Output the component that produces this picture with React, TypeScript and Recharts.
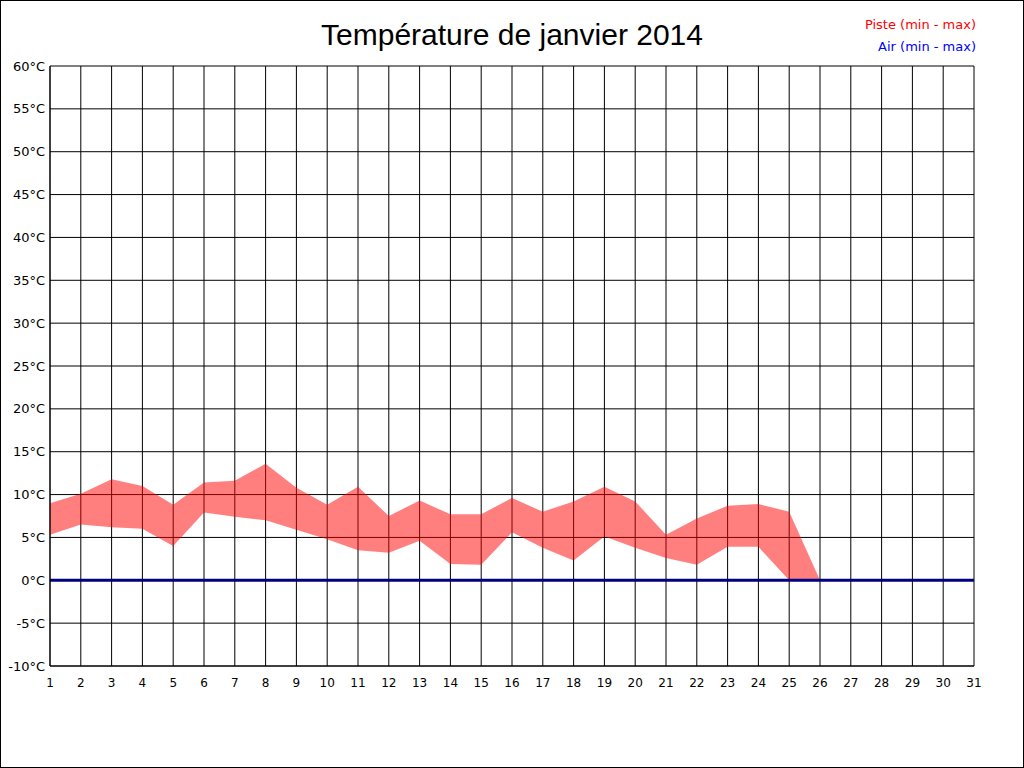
import { ComposedChart, Area, Line, XAxis, YAxis, CartesianGrid } from "recharts";

const days = [
  1, 2, 3, 4, 5, 6, 7, 8, 9, 10, 11, 12, 13, 14, 15, 16, 17, 18, 19, 20, 21,
  22, 23, 24, 25, 26, 27, 28, 29, 30, 31,
];

// Piste (min - max)
const pisteMin = [
  5.3, 6.5, 6.2, 6.0, 4.0, 7.9, 7.4, 7.0, 5.9, 4.8, 3.5, 3.2, 4.6, 1.9, 1.8,
  5.6, 3.8, 2.3, 5.1, 3.8, 2.6, 1.8, 3.9, 3.9, 0, 0, 0, 0, 0, 0, 0,
];
const pisteMax = [
  9.0, 10.1, 11.8, 11.0, 8.8, 11.4, 11.6, 13.6, 10.8, 8.8, 10.9, 7.5, 9.3,
  7.7, 7.7, 9.6, 8.0, 9.2, 10.9, 9.2, 5.3, 7.2, 8.7, 8.9, 8.0, 0, 0, 0, 0, 0,
  0,
];

// Air (min - max)
const airMin = [
  0, 0, 0, 0, 0, 0, 0, 0, 0, 0, 0, 0, 0, 0, 0, 0, 0, 0, 0, 0, 0, 0, 0, 0, 0,
  0, 0, 0, 0, 0, 0,
];
const airMax = [
  0, 0, 0, 0, 0, 0, 0, 0, 0, 0, 0, 0, 0, 0, 0, 0, 0, 0, 0, 0, 0, 0, 0, 0, 0,
  0, 0, 0, 0, 0, 0,
];

const yTicks = [-10, -5, 0, 5, 10, 15, 20, 25, 30, 35, 40, 45, 50, 55, 60];

const data = days.map((d, i) => ({
  day: d,
  piste: [pisteMin[i], pisteMax[i]],
  air: [airMin[i], airMax[i]],
  airMax: airMax[i],
}));

const font = "'DejaVu Sans', sans-serif";

export default function App() {
  return (
    <div
      style={{
        position: "absolute",
        left: 0,
        top: 0,
        width: 1024,
        height: 768,
        background: "#fff",
      }}
    >
      <ComposedChart
        width={1024}
        height={768}
        data={data}
        margin={{ top: 66, right: 50, bottom: 72, left: 0 }}
      >
        <CartesianGrid stroke="#000" strokeOpacity={1} />
        <XAxis
          dataKey="day"
          type="number"
          domain={[1, 31]}
          ticks={days}
          interval={0}
          height={30}
          tickSize={0}
          tickMargin={12}
          stroke="#000"
          tick={{ fill: "#000", fontSize: 12, fontFamily: font }}
        />
        <YAxis
          type="number"
          domain={[-10, 60]}
          ticks={yTicks}
          interval={0}
          width={50}
          tickSize={0}
          tickMargin={5}
          stroke="#000"
          tickFormatter={(v) => `${v}°C`}
          tick={{ fill: "#000", fontSize: 13, fontFamily: font }}
        />
        <Line
          dataKey="airMax"
          stroke="#000080"
          strokeWidth={3}
          dot={false}
          isAnimationActive={false}
        />
        <Area
          dataKey="piste"
          fill="#ff0000"
          fillOpacity={0.5}
          stroke="none"
          isAnimationActive={false}
        />
      </ComposedChart>
      <div
        style={{
          position: "absolute",
          left: 0,
          right: 0,
          top: 18,
          textAlign: "center",
          fontFamily: "'Liberation Sans', Arial, sans-serif",
          fontSize: 30,
          color: "#000",
        }}
      >
        Température de janvier 2014
      </div>
      <div
        style={{
          position: "absolute",
          right: 48,
          top: 14,
          textAlign: "right",
          fontFamily: font,
          fontSize: 13,
          lineHeight: "22px",
        }}
      >
        <div style={{ color: "#ff0000" }}>Piste (min - max)</div>
        <div style={{ color: "#0000ff" }}>Air (min - max)</div>
      </div>
      <div
        style={{
          position: "absolute",
          inset: 0,
          border: "1px solid #000",
          pointerEvents: "none",
        }}
      />
    </div>
  );
}
